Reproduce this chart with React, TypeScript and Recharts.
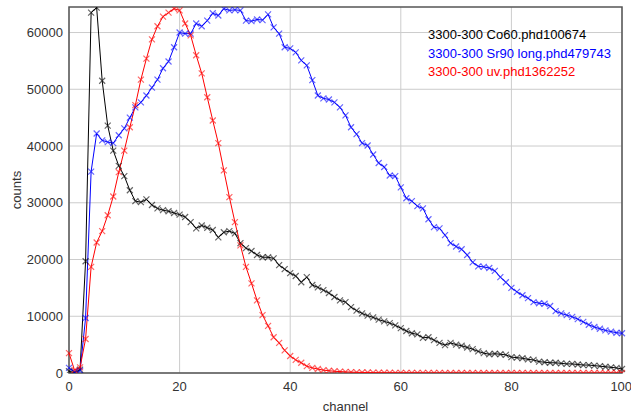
import { CartesianGrid, Line, LineChart, ReferenceArea, XAxis, YAxis } from 'recharts';

// counts per channel (channel 0..100)
const co60 = [
  300, 100, 600, 19700, 63500, 64400, 51500, 43600, 39200, 36500,
  34700, 32200, 30300, 30100, 30600, 29600, 29000, 28700, 28500, 28200,
  27900, 27500, 26600, 25500, 26000, 25600, 25200, 23900, 24800, 25000,
  24600, 22900, 22000, 21500, 20800, 20400, 20400, 20200, 19000, 18300,
  17600, 17100, 16000, 16900, 15500, 15100, 14600, 14100, 13400, 12800,
  12500, 11600, 11000, 10500, 10100, 9800, 9400, 9100, 8800, 8400,
  7900, 7400, 7000, 6800, 6200, 6300, 5800, 5300, 4900, 5300,
  5000, 4800, 4500, 4200, 3800, 3500, 3300, 3400, 3300, 3200,
  2800, 2700, 2600, 2400, 2300, 2000, 1900, 1800, 1800, 1700,
  1600, 1600, 1500, 1400, 1400, 1300, 1200, 1100, 1000, 900,
  700,
];

const sr90 = [
  900, 200, 400, 9700, 35500, 42200, 41000, 40700, 40500, 41900,
  43100, 45000, 46800, 47700, 48900, 50300, 51700, 53700, 54900, 57400,
  60000, 59800, 59800, 61600, 61100, 62100, 63400, 63000, 64200, 63900,
  64000, 63900, 62100, 62000, 62300, 62200, 63200, 60900, 59800, 57400,
  57200, 56500, 55100, 54200, 51600, 48900, 48400, 48200, 47700, 46800,
  45400, 43300, 42100, 40500, 40100, 38500, 37000, 36300, 34800, 34700,
  32700, 30800, 30300, 29400, 29000, 27100, 25700, 25500, 24300, 22900,
  22300, 21800, 20800, 19500, 18800, 18700, 18500, 18000, 16900, 16000,
  15000, 14300, 13700, 13200, 12500, 12300, 12200, 11800, 10900, 10500,
  10200, 9900, 9500, 9000, 8500, 8100, 7800, 7500, 7300, 7100,
  7000,
];

const uv = [
  3500, 500, 1000, 6000, 18700, 23000, 25000, 27800, 31100, 35400,
  39200, 43300, 47200, 51700, 55400, 58800, 61100, 62800, 63500, 64200,
  63900, 61600, 59500, 56000, 52800, 48600, 44500, 40500, 35700, 31000,
  26600, 22500, 18700, 15800, 12800, 10200, 8300, 6300, 5300, 4000,
  3000, 2300, 1800, 1200, 900, 700, 500, 400, 300, 250,
  200, 150, 120, 100, 80, 60, 50, 40, 40, 30,
  30, 20, 20, 20, 10, 10, 10, 10, 0, 0,
  0, 0, 0, 0, 0, 0, 0, 0, 0, 0,
  0, 0, 0, 0, 0, 0, 0, 0, 0, 0,
  0, 0, 0, 0, 0, 0, 0, 0, 0, 0,
  0,
];

const xTicks = [0, 20, 40, 60, 80, 100];
const yTicks = [0, 10000, 20000, 30000, 40000, 50000, 60000];
const Y_MAX = 64500;

const SERIES = [
  { key: 'co60', name: '3300-300 Co60.phd100674', color: '#000000' },
  { key: 'sr90', name: '3300-300 Sr90 long.phd479743', color: '#0000ff' },
  { key: 'uv', name: '3300-300 uv.phd1362252', color: '#ff0000' },
];

const data = co60.map((v, i) => ({ channel: i, co60: v, sr90: sr90[i], uv: uv[i] }));

const FONT = '"Liberation Sans", Arial, sans-serif';
const tickStyle = { fontSize: 13, fill: '#333', fontFamily: FONT };

function XMark(props: any) {
  const { cx, cy, stroke } = props;
  if (cx == null || cy == null) return null;
  const s = 3;
  return (
    <path
      d={`M${cx - s},${cy - s}L${cx + s},${cy + s}M${cx - s},${cy + s}L${cx + s},${cy - s}`}
      stroke={stroke}
      strokeOpacity={0.6}
      strokeWidth={1.2}
      fill="none"
    />
  );
}

export default function App() {
  return (
    <div style={{ position: 'absolute', top: 0, left: 0, width: 631, height: 413, background: '#fff', fontFamily: FONT }}>
      <LineChart width={631} height={413} data={data} margin={{ top: 7, right: 9, left: 0, bottom: 0 }}>
        <CartesianGrid stroke="#cccccc" horizontalValues={yTicks} verticalValues={xTicks} />
        <XAxis
          dataKey="channel"
          type="number"
          domain={[0, 100]}
          ticks={xTicks}
          height={40}
          tick={tickStyle}
          tickSize={0}
          tickMargin={9}
          axisLine={false}
          label={{ value: 'channel', position: 'insideBottom', offset: 2, style: { fontSize: 13, fill: '#333', fontFamily: FONT } }}
        />
        <YAxis
          type="number"
          domain={[0, Y_MAX]}
          ticks={yTicks}
          width={69}
          tick={tickStyle}
          tickSize={0}
          tickMargin={6}
          axisLine={false}
          allowDataOverflow
          label={{
            content: (p: any) => {
              const vb = p.viewBox || { x: 0, y: 7, width: 69, height: 366 };
              const x = vb.x + 16;
              const y = vb.y + vb.height / 2;
              return (
                <text
                  x={x}
                  y={y}
                  transform={`rotate(-90 ${x} ${y})`}
                  textAnchor="middle"
                  dominantBaseline="central"
                  style={{ fontSize: 13, fill: '#333', fontFamily: FONT }}
                >
                  counts
                </text>
              );
            },
          }}
        />
        {SERIES.map((s) => (
          <Line
            key={s.key}
            dataKey={s.key}
            name={s.name}
            type="linear"
            stroke={s.color}
            strokeWidth={1}
            dot={<XMark />}
            activeDot={false}
            isAnimationActive={false}
          />
        ))}
        <ReferenceArea x1={0} x2={100} y1={0} y2={Y_MAX} fill="none" stroke="#555" strokeWidth={1.5} />
      </LineChart>
      <div style={{ position: 'absolute', left: 428, top: 26, fontSize: 13, lineHeight: '18.5px' }}>
        {SERIES.map((s) => (
          <div key={s.key} style={{ color: s.color, whiteSpace: 'nowrap' }}>
            {s.name}
          </div>
        ))}
      </div>
    </div>
  );
}
